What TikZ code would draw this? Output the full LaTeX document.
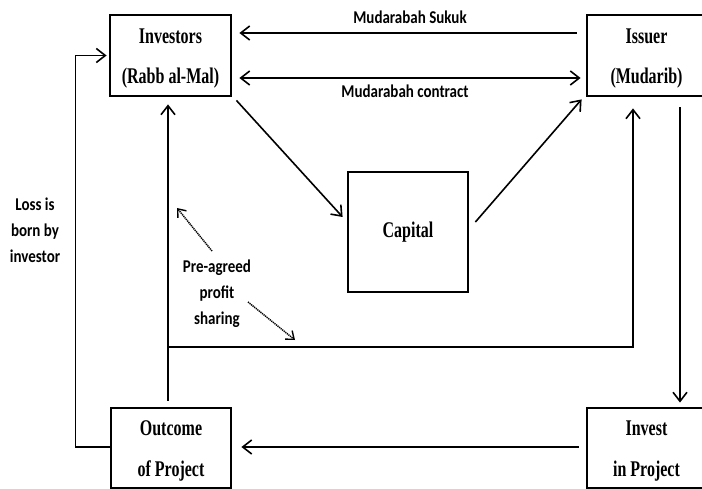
\documentclass[tikz,border=0pt]{standalone}
\usepackage{fontspec}
\setmainfont{Liberation Serif}
\newfontfamily\labfont{Carlito}
\usetikzlibrary{arrows.meta}
\newcommand\boxtwo[2]{\scalebox{1}[1.4]{\begin{tabular}{@{}c@{}}#1\\#2\end{tabular}}}
\newcommand\boxone[1]{\scalebox{1}[1.4]{#1}}
\newcommand\labtxt[1]{\scalebox{1}[1.2]{\begin{tabular}{@{}c@{}}#1\end{tabular}}}
\tikzset{
  blk/.style={draw, line width=2.8pt, inner sep=0pt, font=\fontsize{16}{28.6}\selectfont\bfseries},
  barb/.tip={Straight Barb[length=9pt,width=14pt,line width=1.6pt]},
  arr/.style={line width=1.6pt, -barb},
  dotarr/.style={line width=1.5pt, dash pattern=on 1.2pt off 0.8pt, -{Straight Barb[length=7pt,width=11pt,line width=1.4pt]}},
  lab/.style={font=\fontsize{15}{21.7}\selectfont\labfont\bfseries, inner sep=0pt}
}
\begin{document}
\begin{tikzpicture}[x=1pt,y=-1pt]
\useasboundingbox (0,0) rectangle (702,489);
\fill[white] (0,0) rectangle (702,489);
% boxes
\node[blk, minimum width=121pt, minimum height=81pt] (inv) at (170.5,55.5) {\boxtwo{Investors}{(Rabb al-Mal)}};
\node[blk, minimum width=119pt, minimum height=81pt] (iss) at (646.5,55.5) {\boxtwo{Issuer}{(Mudarib)}};
\node[blk, minimum width=120pt, minimum height=120pt] (cap) at (408,232) {\boxone{Capital}};
\node[blk, minimum width=120pt, minimum height=80pt] (out) at (171,448) {\boxtwo{Outcome}{of Project}};
\node[blk, minimum width=119pt, minimum height=80pt] (ivp) at (646.5,448) {\boxtwo{Invest}{in Project}};
% labels
\node[lab] (suk) at (410,18) {\labtxt{Mudarabah Sukuk}};
\node[lab] (con) at (405,92) {\labtxt{Mudarabah contract}};
\node[lab] (loss) at (35,231) {\labtxt{Loss is\\born by\\investor}};
\node[lab] (share) at (217,293) {\labtxt{Pre-agreed\\profit\\sharing}};
% connectors
\draw[arr, shorten <=9pt, shorten >=7pt] ([yshift=22.5pt]iss.west) -- ([yshift=22.5pt]inv.east);
\draw[line width=1.6pt, barb-barb, shorten <=7pt, shorten >=5pt] ([yshift=-22.5pt]inv.east) -- ([yshift=-22.5pt]iss.west);
\draw[arr] ([shift={(4pt,-3pt)}]inv.south east) -- ([shift={(-4pt,15pt)}]cap.west);
\draw[arr] ([shift={(6pt,10pt)}]cap.east) -- ([shift={(-4pt,-2pt)}]iss.south west);
\draw[arr] ([xshift=33.5pt,yshift=-10pt]iss.south) -- ([xshift=33.5pt,yshift=4pt]ivp.north);
\draw[arr] ([xshift=-3pt,yshift=6pt]out.north) -- ([xshift=-2.5pt,yshift=-7pt]inv.south);
\coordinate (split) at (168,347);
\draw[arr] (split) -| ([xshift=-13.5pt,yshift=-11pt]iss.south);
\draw[arr] ([yshift=1pt,xshift=-7pt]ivp.west) -- ([yshift=1pt,xshift=9pt]out.east);
\draw[arr] ([yshift=1pt]out.west) -- ++(-34,0) |- ([xshift=-2pt]inv.west);
% dotted profit-sharing arrows
\coordinate (d1) at (177,208);
\coordinate (d2) at (212,251);
\coordinate (d3) at (248,302);
\coordinate (d4) at (295,340);
\draw[dotarr] (d2) -- (d1);
\draw[dotarr] (d3) -- (d4);
\end{tikzpicture}
\end{document}
